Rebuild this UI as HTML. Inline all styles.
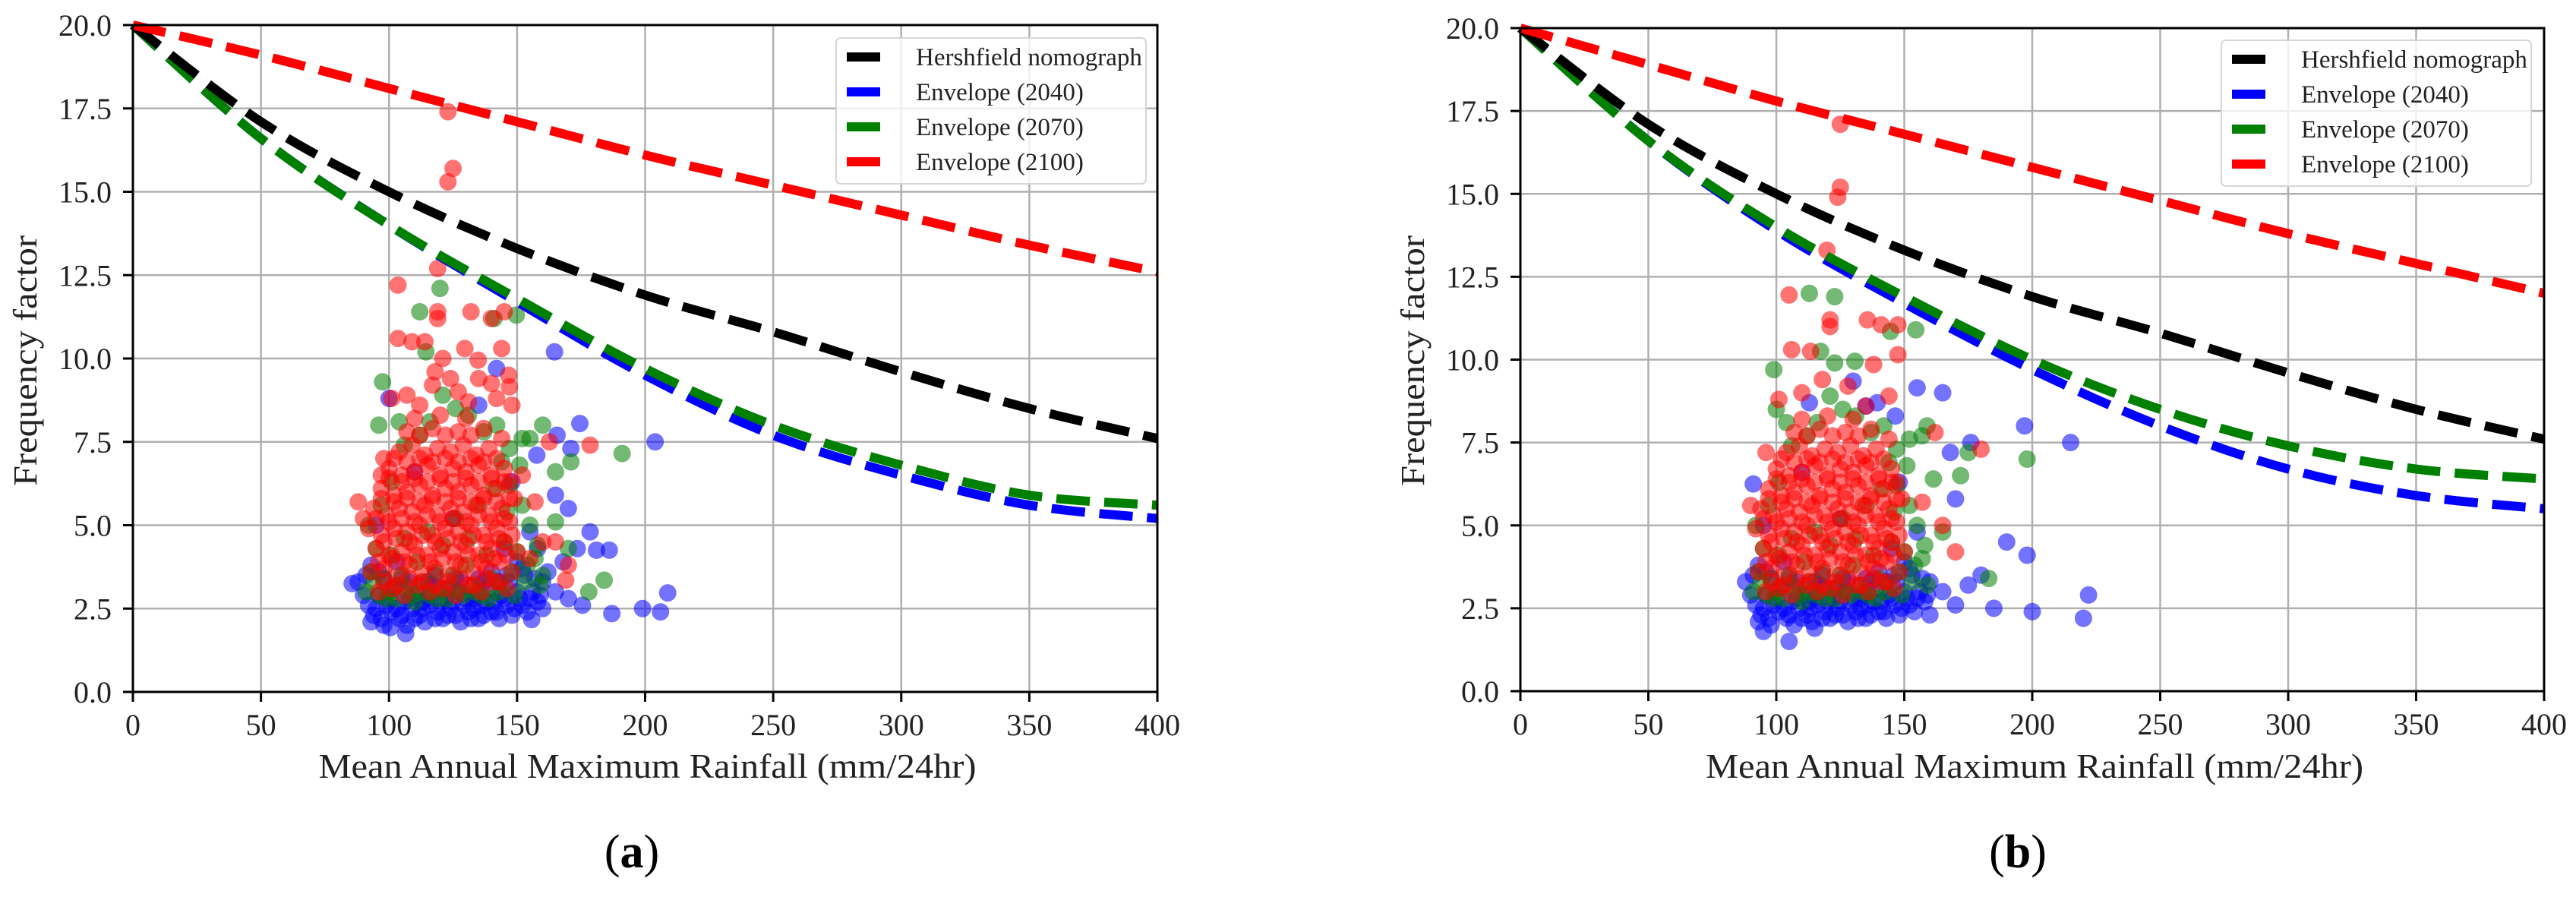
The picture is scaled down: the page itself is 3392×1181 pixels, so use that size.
<!DOCTYPE html>
<html><head><meta charset="utf-8"><style>
html,body{margin:0;padding:0;background:#fff;}
svg{display:block;font-family:"Liberation Serif",serif;}
</style></head><body>
<svg id="fig" width="3392" height="1181" viewBox="0 0 3392 1181" xmlns="http://www.w3.org/2000/svg"></svg>
<script>
const xTicks=[0,50,100,150,200,250,300,350,400];
const yTicks=[0,2.5,5,7.5,10,12.5,15,17.5,20];
const yTickLabels=["0.0","2.5","5.0","7.5","10.0","12.5","15.0","17.5","20.0"];
const curveX=[0,50,100,150,200,250,300,350,400];
const hershA=[20,17.1,15.0,13.3,11.9,10.8,9.6,8.5,7.6];
const env2040A=[20,16.6,14.0,11.7,9.5,7.7,6.5,5.6,5.2];
const env2070A=[20,16.6,14.0,11.8,9.7,8.0,6.8,5.9,5.6];
const env2100A=[20,19.1,18.1,17.1,16.1,15.2,14.3,13.4,12.6];
const hershB=[20,17.1,15.0,13.3,11.9,10.8,9.6,8.5,7.6];
const env2040B=[20,16.6,13.9,11.7,9.7,8.0,6.7,5.9,5.5];
const env2070B=[20,16.6,14.0,11.9,10.0,8.5,7.4,6.7,6.4];
const env2100B=[20,18.9,17.8,16.8,15.8,14.8,13.8,12.9,12.0];
const legendLabels=["Hershfield nomograph","Envelope (2040)","Envelope (2070)","Envelope (2100)"];
const seriesColors=["#000000","#0000ff","#008000","#ff0000"];

const blueCore=[[92,2.6],[94,2.3],[96,2.9],[97,2.2],[99,2.6],[101,2.4],[102,3.1],[104,2.2],[106,2.7],[107,2.0],[109,2.5],[111,2.9],[112,2.3],[114,2.1],[116,2.6],[117,3.2],[119,2.4],[121,2.2],[122,2.8],[124,2.5],[126,2.3],[127,3.0],[129,2.6],[131,2.4],[132,2.2],[134,2.9],[136,2.6],[137,2.3],[139,3.1],[141,2.7],[142,2.4],[144,2.9],[146,2.6],[147,3.3],[149,2.5],[151,2.8],[153,3.5],[154,2.4],[156,3.0],[158,2.7],[160,3.3],[150,3.9],[145,4.3],[140,3.6],[135,3.4],[128,3.3],[118,3.5],[108,3.3],[98,3.4],[93,3.8],[90,2.9],[88,3.3],[103,3.9],[113,2.7],[123,3.1],[133,2.8],[143,3.3],[155,4.8],[148,6.3],[135,8.6],[110,6.6],[125,5.2],[95,5.0],
[93,2.1],[95,2.5],[98,2.0],[100,2.8],[103,2.5],[105,2.3],[108,2.8],[110,2.2],[113,2.5],[115,2.8],[118,2.2],[120,2.7],[123,2.3],[125,2.7],[128,2.1],[130,2.8],[133,2.5],[135,2.2],[138,2.7],[140,2.4],[143,2.2],[145,2.8],[148,2.3],[150,3.0],[152,2.6],[155,2.8],[157,3.4],[159,2.9],[152,3.7],[146,3.5],[137,3.3],[126,3.4],[115,3.3],[105,3.4],[96,3.6],[91,3.5]];
const greenCore=[[91,3.0],[93,3.6],[95,4.3],[96,2.9],[98,3.4],[100,3.0],[101,4.1],[103,2.8],[105,3.5],[106,4.6],[108,3.1],[110,2.7],[111,3.9],[113,3.3],[115,4.8],[116,2.9],[118,3.6],[120,3.1],[121,4.4],[123,2.8],[125,3.5],[126,5.2],[128,3.0],[130,3.8],[131,4.6],[133,3.2],[135,5.6],[136,2.9],[138,4.1],[140,3.4],[141,6.1],[143,3.0],[145,4.5],[146,5.4],[148,3.6],[150,4.2],[151,6.8],[153,3.3],[155,5.0],[157,4.0],[159,3.2],[152,7.6],[147,7.3],[142,8.0],[137,7.8],[131,8.3],[126,8.5],[121,8.9],[116,8.1],[112,7.7],[106,7.4],[101,6.3],[97,5.6],[92,5.0],[104,8.1],
[94,3.3],[99,2.8],[104,3.2],[109,2.9],[114,3.0],[119,2.8],[124,3.1],[129,2.9],[134,3.0],[139,2.8],[144,3.2],[149,2.9],[154,3.8],[158,4.4],[152,5.6],[147,6.2],[144,6.9]];
const redCore=[[96,3.0],[101,3.1],[106,2.9],[111,3.2],[116,3.0],[121,3.1],[126,2.9],[131,3.2],[136,3.0],[141,3.3],[146,3.1],
[93,3.6],[98,3.7],[103,3.5],[108,3.8],[113,3.6],[118,3.7],[123,3.5],[128,3.8],[133,3.6],[138,3.7],[143,3.9],[148,3.6],
[95,4.3],[100,4.1],[105,4.2],[110,4.4],[115,4.1],[120,4.3],[125,4.2],[130,4.4],[135,4.1],[140,4.3],[145,4.5],[150,4.2],
[92,4.9],[97,4.7],[102,4.9],[107,4.8],[112,5.0],[117,4.7],[122,4.9],[127,4.8],[132,5.0],[137,4.7],[142,4.9],[147,5.1],
[94,5.5],[99,5.3],[104,5.5],[109,5.4],[114,5.6],[119,5.3],[124,5.5],[129,5.4],[134,5.6],[139,5.3],[144,5.5],[149,5.8],
[97,6.1],[102,5.9],[107,6.0],[112,6.2],[117,5.9],[122,6.1],[127,6.0],[132,6.2],[137,5.9],[142,6.1],[147,6.3],
[100,6.7],[105,6.5],[110,6.6],[115,6.8],[120,6.5],[125,6.7],[130,6.6],[135,6.8],[140,6.5],[145,6.7],
[104,7.2],[109,7.4],[114,7.1],[119,7.3],[124,7.2],[129,7.4],[134,7.1],[139,7.3],[144,7.6],
[98,3.3],[103,3.2],[108,3.4],[113,3.3],[118,3.2],[123,3.3],[128,3.4],[133,3.2],[138,3.4],[143,3.3],
[96,3.9],[101,4.0],[106,3.9],[111,4.1],[116,3.9],[121,4.0],[126,3.9],[131,4.1],[136,3.9],[141,4.0],[146,4.1],
[98,4.5],[103,4.6],[108,4.5],[113,4.7],[118,4.5],[123,4.6],[128,4.5],[133,4.7],[138,4.5],[143,4.6],[148,4.7],
[95,5.2],[100,5.1],[105,5.2],[110,5.1],[115,5.3],[120,5.1],[125,5.2],[130,5.1],[135,5.3],[140,5.1],[145,5.2],
[97,5.8],[102,5.7],[107,5.8],[112,5.7],[117,5.8],[122,5.7],[127,5.8],[132,5.7],[137,5.8],[142,5.7],[147,5.8],
[100,6.4],[105,6.3],[110,6.4],[115,6.3],[120,6.4],[125,6.3],[130,6.4],[135,6.3],[140,6.4],[145,6.3],
[102,7.0],[107,6.9],[112,7.0],[117,6.9],[122,7.0],[127,6.9],[132,7.0],[137,6.9],[142,7.0],
[107,7.8],[112,7.7],[117,7.9],[122,7.7],[127,7.8],[132,7.7],[137,7.9],[110,8.2],[120,8.3],[130,8.2]];

const blueA=[[164.6,10.2],[174.5,8.05],[165.6,7.7],[157.7,7.1],[171,7.3],[203.9,7.5],[165,5.9],[170,5.5],[178.5,4.8],[181,4.25],[186,4.25],[173.5,4.3],[208.8,2.97],[199,2.5],[206,2.4],[187,2.35],[175.5,2.6],[155.7,2.17],[106.5,1.75],[100.5,1.93],[85.6,3.25],[165,3.0],[170,2.8],[160,2.5],[158,4.3],[162,3.6],[168,3.9],[142,9.7],[100,8.8]];
const greenA=[[119.9,12.1],[112,11.4],[141,11.2],[149.7,11.3],[114.4,10.2],[97.5,9.3],[96,8.0],[191,7.15],[171,6.9],[165,5.1],[184,3.35],[178,3.0],[160,3.5],[165,6.6],[170,4.3],[160,8.0],[155,7.6]];
const redA=[[123,17.4],[125,15.7],[123,15.3],[119,12.7],[103.5,12.2],[119,11.4],[119,11.2],[132,11.4],[140,11.2],[145,11.4],[103.5,10.6],[109,10.5],[114,10.5],[129.6,10.3],[144,10.3],[134.8,9.95],[121,10],[118,9.6],[124,9.4],[135,9.4],[140,9.25],[146.7,9.5],[147,9.15],[101,8.8],[107,8.9],[112,8.6],[117,9.2],[127,9.0],[131,8.7],[142,8.8],[148,8.6],[98,7.0],[97,6.5],[162.6,7.5],[178.5,7.4],[170,3.8],[169,3.35],[160,4.5],[157,5.7],[155,4.0],[152,6.5],[88,5.7],[90,5.2],[165,4.5]];
const blueB=[[155,9.15],[130,9.35],[139.4,8.7],[112.9,8.7],[146.5,8.3],[91,6.25],[197,8.0],[215,7.5],[198,4.1],[190,4.5],[222,2.9],[220,2.2],[200,2.4],[185,2.5],[175,3.2],[170,5.8],[168,7.2],[176,7.5],[165,9.0],[105,1.5],[95,1.8],[115,1.9],[160,2.3],[180,3.5],[165,3.0],[170,2.6]];
const greenB=[[112.9,12.0],[122.8,11.9],[144.6,10.85],[154.5,10.9],[117.3,10.25],[99,9.7],[122.8,9.9],[130.7,9.95],[100,8.5],[158.9,8.0],[156.9,7.7],[161.4,6.4],[175,7.2],[198,7.0],[172,6.5],[183,3.4],[165,4.8]];
const redB=[[125,17.1],[125,15.2],[124,14.9],[119.8,13.3],[105,11.95],[121,11.2],[121,11.0],[135.6,11.2],[141,11.05],[147.5,11.05],[106,10.3],[113.4,10.25],[147.5,10.15],[138,9.85],[144,8.9],[162,7.8],[180,7.3],[170,4.2],[165,5.0],[157,5.7],[101,8.8],[110,9.0],[118,9.4],[128,9.2],[135,8.6],[96,7.2],[90,5.6]];

const NS="http://www.w3.org/2000/svg";
const svg=document.getElementById('fig');
function mk(tag,attrs,parent){const e=document.createElementNS(NS,tag);for(const k in attrs)e.setAttribute(k,attrs[k]);(parent||svg).appendChild(e);return e;}

function panel(cfg){
  const g=mk('g',{});
  
  
  const sx=v=>cfg.x0+v/400*(cfg.x1-cfg.x0);
  const sy=v=>cfg.y0-v/20*(cfg.y0-cfg.y20);
  xTicks.forEach(t=>{const l=mk('line',{x1:sx(t),x2:sx(t),y1:cfg.y20,y2:cfg.y0,stroke:'#b0b0b0','stroke-width':2.5},g);
    
    });
  yTicks.forEach(t=>{const l=mk('line',{x1:cfg.x0,x2:cfg.x1,y1:sy(t),y2:sy(t),stroke:'#b0b0b0','stroke-width':2.5},g);
    
    });
  const sets=[[cfg.blueCore,cfg.blue,'#0000ff','scatter-2040'],[cfg.greenCore,cfg.green,'#008000','scatter-2070'],[cfg.redCore,cfg.red,'#ff0000','scatter-2100']];
  sets.forEach(s=>{const sg=mk('g',{fill:s[2],'fill-opacity':0.55},g);
    
    
    s[0].concat(s[1]).forEach(p=>{const c=mk('circle',{cx:sx(p[0]),cy:sy(p[1]),r:11.5},sg);
      
      });});
  const curves=[[cfg.env2040,'#0000ff','curve-envelope-2040'],[cfg.env2070,'#008000','curve-envelope-2070'],[cfg.hersh,'#000000','curve-hershfield'],[cfg.env2100,'#ff0000','curve-envelope-2100']];
  curves.forEach(c=>{
    const pts=curveX.map((x,i)=>[sx(x),sy(c[0][i])]);
    let d='M'+pts[0][0]+','+pts[0][1];
    for(let i=0;i<pts.length-1;i++){const p0=pts[Math.max(0,i-1)],p1=pts[i],p2=pts[i+1],p3=pts[Math.min(pts.length-1,i+2)];
      d+=' C'+(p1[0]+(p2[0]-p0[0])/6)+','+(p1[1]+(p2[1]-p0[1])/6)+' '+(p2[0]-(p3[0]-p1[0])/6)+','+(p2[1]-(p3[1]-p1[1])/6)+' '+p2[0]+','+p2[1];}
    const p=mk('path',{d:d,fill:'none',stroke:c[1],'stroke-width':12,'stroke-dasharray':'44 19'},g);
    
    });
  const fr=mk('rect',{x:cfg.x0,y:cfg.y20,width:cfg.x1-cfg.x0,height:cfg.y0-cfg.y20,fill:'none',stroke:'#000','stroke-width':3},g);
  
  
  xTicks.forEach(t=>{mk('line',{x1:sx(t),x2:sx(t),y1:cfg.y0,y2:cfg.y0+13,stroke:'#000','stroke-width':3},g);
    const tx=mk('text',{x:sx(t),y:cfg.y0+57,'text-anchor':'middle','font-size':40,fill:'#222'},g);
    tx.textContent=t;
    
    });
  yTicks.forEach((t,i)=>{mk('line',{x1:cfg.x0-13,x2:cfg.x0,y1:sy(t),y2:sy(t),stroke:'#000','stroke-width':3},g);
    const tx=mk('text',{x:cfg.x0-28,y:sy(t)+14,'text-anchor':'end','font-size':40,fill:'#222'},g);
    tx.textContent=yTickLabels[i];
    
    });
  const xt=mk('text',{x:(cfg.x0+cfg.x1)/2+3,y:1024,'text-anchor':'middle','font-size':46,textLength:866,lengthAdjust:'spacingAndGlyphs',fill:'#222'},g);
  xt.textContent='Mean Annual Maximum Rainfall (mm/24hr)';
  
  
  const yt=mk('text',{x:0,y:0,'text-anchor':'middle','font-size':44,textLength:330,lengthAdjust:'spacingAndGlyphs',fill:'#222',transform:'translate('+cfg.ylx+',475) rotate(-90)'},g);
  yt.textContent='Frequency factor';
  
  
  const lg=mk('g',{},g);
  
  
  mk('rect',{x:cfg.lx,y:cfg.ly,width:408,height:192,rx:6,fill:'#fff','fill-opacity':0.8,stroke:'#d6d6d6','stroke-width':2},lg);
  legendLabels.forEach((lab,i)=>{const yy=cfg.ly+25+i*46;
    const sw=mk('rect',{x:cfg.lx+14,y:yy-6,width:44,height:12,fill:seriesColors[i]},lg);
    
    
    const t=mk('text',{x:cfg.lx+105,y:yy+11,'font-size':33,fill:'#222'},lg);
    t.textContent=lab;
    
    });
  const cap=mk('text',{x:cfg.capx,y:1142,'text-anchor':'middle','font-size':62,fill:'#000'},g);
  cap.innerHTML='(<tspan font-weight="bold">'+cfg.cap+'</tspan>)';
  
  
}
panel({name:'panel-a',x0:175,x1:1524,y20:33,y0:911,hersh:hershA,env2040:env2040A,env2070:env2070A,env2100:env2100A,
  blueCore:blueCore,greenCore:greenCore,redCore:redCore,blue:blueA,green:greenA,red:redA,lx:1101,ly:50,ylx:48,capx:832,cap:'a'});
panel({name:'panel-b',x0:2002,x1:3350,y20:37,y0:910,hersh:hershB,env2040:env2040B,env2070:env2070B,env2100:env2100B,
  blueCore:blueCore,greenCore:greenCore,redCore:redCore,blue:blueB,green:greenB,red:redB,lx:2925,ly:53,ylx:1875,capx:2657,cap:'b'});
</script>
</body></html>
